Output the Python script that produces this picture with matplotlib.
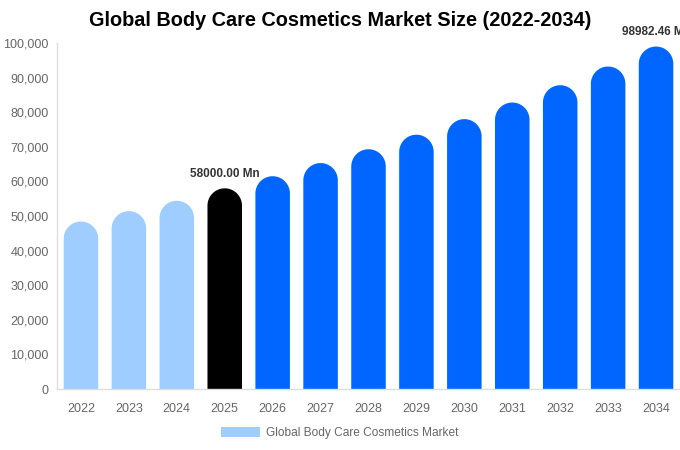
import numpy as np
import matplotlib
matplotlib.use("Agg")
import matplotlib.pyplot as plt
from matplotlib.patches import PathPatch, Patch
from matplotlib.path import Path

years = ["2022", "2023", "2024", "2025", "2026", "2027", "2028", "2029",
         "2030", "2031", "2032", "2033", "2034"]
values = [48400, 51400, 54400, 58000, 61500, 65300, 69300, 73500,
          78000, 82800, 87800, 93200, 98982.46]
colors = ["#A0CDFF"] * 3 + ["#000000"] + ["#0066FF"] * 9
labels = {3: "58000.00 Mn", 12: "98982.46 Mn"}

plt.rcParams['font.family'] = ['Liberation Sans', 'DejaVu Sans']

W, H, DPI = 680, 450, 100
fig = plt.figure(figsize=(W / DPI, H / DPI), dpi=DPI)
ax_l, ax_r, ax_b, ax_t = 57, 680, 389, 43
ax = fig.add_axes([ax_l / W, 1 - ax_b / H, (ax_r - ax_l) / W, (ax_b - ax_t) / H])

ymax = 100000
ax.set_xlim(-0.5, len(years) - 0.5)
ax.set_ylim(0, ymax)

bw = 0.72
px_per_x = (ax_r - ax_l) / len(years)
px_per_y = (ax_b - ax_t) / ymax
r_px = bw * px_per_x / 2
r_data = r_px / px_per_y

theta = np.linspace(0, np.pi, 40)
for i, (v, c) in enumerate(zip(values, colors)):
    cy = v - r_data
    xs = [i + bw / 2] + list(i + (bw / 2) * np.cos(theta)) + [i - bw / 2]
    ys = [0] + list(cy + r_data * np.sin(theta)) + [0]
    verts = list(zip(xs, ys)) + [(xs[0], ys[0])]
    codes = [Path.MOVETO] + [Path.LINETO] * (len(verts) - 2) + [Path.CLOSEPOLY]
    ax.add_patch(PathPatch(Path(verts, codes), facecolor=c, edgecolor="none"))
    if i in labels:
        ax.text(i, v + 2500, labels[i], ha="center", va="bottom", fontsize=8.5,
                fontweight="bold", color="#333333", clip_on=False)

ax.set_xticks(range(len(years)))
ax.set_xticklabels(years)
yt = list(range(0, 100001, 10000))
ax.set_yticks(yt)
ax.set_yticklabels([f"{t:,}" for t in yt])
ax.tick_params(axis="both", length=0, labelsize=9, colors="#666666")
ax.tick_params(axis="x", pad=10)
ax.tick_params(axis="y", pad=6)

for s in ["top", "right"]:
    ax.spines[s].set_visible(False)
for s in ["left", "bottom"]:
    ax.spines[s].set_color("#DDDDDD")
    ax.spines[s].set_linewidth(1)

fig.text(340 / W, 1 - 21 / H, "Global Body Care Cosmetics Market Size (2022-2034)",
         ha="center", va="center", fontsize=14.3, fontweight="bold", color="#000000")

leg = fig.legend(handles=[Patch(facecolor="#A0CDFF", edgecolor="none",
                                label="Global Body Care Cosmetics Market")],
                 loc="center", bbox_to_anchor=(340 / W, 1 - 433 / H), frameon=False,
                 fontsize=8.6, handlelength=3.3, handleheight=0.95, handletextpad=0.5)
for t in leg.get_texts():
    t.set_color("#666666")

fig.savefig("out.png", dpi=DPI)
